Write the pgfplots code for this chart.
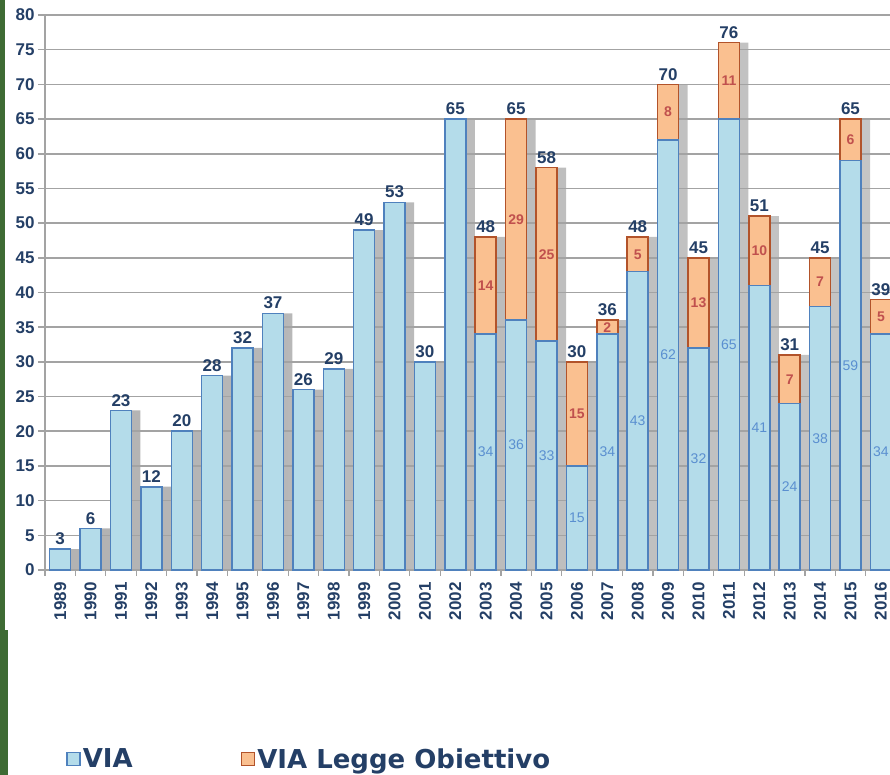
\documentclass[border=0pt]{standalone}
\usepackage{pgfplots}
\pgfplotsset{compat=1.18}
\usepackage{pgfplotstable}
\usepackage{fontspec}
\setmainfont{Liberation Sans}
\newfontfamily\legfont{DejaVu Sans}
\definecolor{navy}{HTML}{243F66}
\definecolor{gridgray}{HTML}{A3A3A3}
\definecolor{viafill}{HTML}{B4DCEA}
\definecolor{viadraw}{HTML}{4F81BD}
\definecolor{legfill}{HTML}{FAC090}
\definecolor{legdraw}{HTML}{B2532A}
\definecolor{leglab}{HTML}{C0504D}
\definecolor{vialab}{HTML}{5A8FD0}
\definecolor{greenstrip}{HTML}{3E6B34}

\pgfplotstableread{
x via leg
0 3 0
1 6 0
2 23 0
3 12 0
4 20 0
5 28 0
6 32 0
7 37 0
8 26 0
9 29 0
10 49 0
11 53 0
12 30 0
13 65 0
14 34 14
15 36 29
16 33 25
17 15 15
18 34 2
19 43 5
20 62 8
21 32 13
22 65 11
23 41 10
24 24 7
25 38 7
26 59 6
27 34 5
}\data

\pgfplotsset{base/.style={
  width=845pt, height=555pt, scale only axis,
  xmin=-0.5, xmax=27.3, ymin=0, ymax=80,
  /pgf/number format/assume math mode=true,
}}

\begin{document}
\begin{tikzpicture}
\useasboundingbox (-45pt,-205pt) rectangle (845pt,570pt);
\fill[greenstrip] (-45pt,-60pt) rectangle (-40pt,570pt);
\fill[greenstrip] (-45pt,-205pt) rectangle (-37pt,-60pt);

% shadows
\begin{axis}[base, hide axis, ybar, bar width=9pt]
\addplot[bar shift=15pt, draw=none, left color=gray!60, middle color=gray!10, right color=gray!45]
  table[x=x, y expr=\thisrow{via}+\thisrow{leg}] \data;
\end{axis}

% main bars
\begin{axis}[base, ybar, bar width=21pt,
  axis x line=bottom, axis y line=left,
  axis line style={-, draw=gridgray, line width=1.6pt},
  ymajorgrids, grid style={draw=gridgray, line width=1.6pt},
  ytick={0,5,...,80},
  xtick={0,...,27},
  xticklabels={1989,1990,1991,1992,1993,1994,1995,1996,1997,1998,1999,2000,2001,2002,2003,2004,2005,2006,2007,2008,2009,2010,2011,2012,2013,2014,2015,2016},
  minor xtick={-0.5,0.5,...,27.5},
  tick align=outside,
  major tick length=7pt, minor tick length=6pt,
  every major x tick/.append style={draw=none},
  every minor x tick/.append style={draw=gridgray, line width=1.2pt},
  every major y tick/.append style={draw=gridgray, line width=1.6pt},
  ticklabel style={font=\fontsize{17}{20}\selectfont\bfseries, text=navy},
  xticklabel style={rotate=90, anchor=east, xshift=-2pt},
  legend style={at={(axis description cs:0.0215,-0.3405)}, anchor=west, draw=none, fill=none,
    legend columns=2, font=\fontsize{26}{30}\selectfont\legfont\bfseries, text=navy,
    /tikz/every even column/.append style={column sep=106pt}},
]
\addplot[forget plot, bar shift=0pt, fill=legfill, draw=legdraw, line width=1.5pt,
  skip coords between index={0}{14}]
  table[x=x, y expr=\thisrow{via}+\thisrow{leg}] \data;
\addplot[forget plot, bar shift=0pt, fill=viafill, draw=viadraw, line width=1.5pt]
  table[x=x, y=via] \data;
\addlegendimage{legend image code/.code={\draw[fill=viafill, draw=viadraw, line width=1.5pt] (0pt,-6.5pt) rectangle (13pt,6.5pt);}}
\addlegendentry{VIA}
\addlegendimage{legend image code/.code={\draw[fill=legfill, draw=legdraw, line width=1.5pt] (0pt,-6.5pt) rectangle (13pt,6.5pt);}}
\addlegendentry{VIA Legge Obiettivo}
\end{axis}

% labels
\begin{axis}[base, hide axis, clip=false]
\addplot[draw=none, mark=none, nodes near coords, point meta={\thisrow{via}+\thisrow{leg}},
  every node near coord/.append style={anchor=south, font=\fontsize{17}{20}\selectfont\bfseries, text=navy, inner sep=1pt, yshift=3pt}]
  table[x=x, y expr=\thisrow{via}+\thisrow{leg}] \data;
\addplot[draw=none, mark=none, nodes near coords, point meta={\thisrow{via}},
  skip coords between index={0}{14},
  every node near coord/.append style={anchor=center, font=\fontsize{14}{16}\selectfont, text=vialab, inner sep=0pt}]
  table[x=x, y expr=\thisrow{via}/2] \data;
\addplot[draw=none, mark=none, nodes near coords, point meta={\thisrow{leg}},
  skip coords between index={0}{14},
  every node near coord/.append style={anchor=center, font=\fontsize{14}{16}\selectfont\bfseries, text=leglab, inner sep=0pt}]
  table[x=x, y expr=\thisrow{via}+\thisrow{leg}/2] \data;
\end{axis}
\end{tikzpicture}
\end{document}
